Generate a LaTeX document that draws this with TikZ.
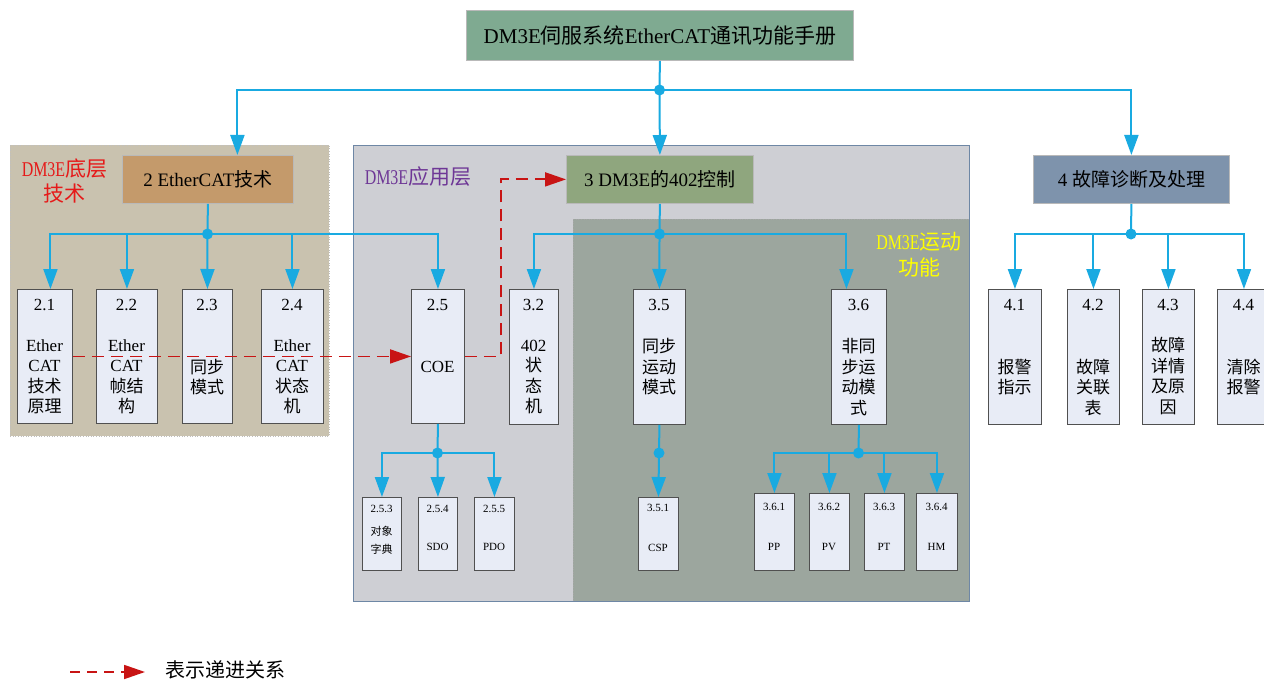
\documentclass[tikz,border=0pt]{standalone}
\usepackage{fontspec}
\setmainfont{Liberation Serif}
\newfontfamily\cjk{Noto Sans CJK SC}
\newfontfamily\nserif[FakeStretch=0.76]{Liberation Serif}
\usetikzlibrary{arrows.meta}
\newcommand\C[1]{{\cjk #1}}
\newcommand\N[1]{{\nserif #1}}
\definecolor{conn}{RGB}{25,170,225}
\definecolor{redd}{RGB}{200,20,20}
\definecolor{redl}{RGB}{230,25,25}
\definecolor{purp}{RGB}{110,55,150}
\definecolor{yell}{RGB}{255,255,0}
\definecolor{boxfill}{RGB}{232,236,246}
\definecolor{boxline}{RGB}{80,80,80}
\definecolor{panA}{RGB}{201,194,175}
\definecolor{panB}{RGB}{206,207,212}
\definecolor{panC}{RGB}{156,166,158}
\definecolor{panBline}{RGB}{110,135,165}
\definecolor{titlec}{RGB}{127,170,145}
\definecolor{twoc}{RGB}{196,154,107}
\definecolor{threec}{RGB}{143,166,126}
\definecolor{fourc}{RGB}{126,147,172}
\tikzset{
  leaf/.style={draw=boxline, fill=boxfill, line width=0.9pt, inner sep=0pt, anchor=north west},
  bigbox/.style={draw=gray!55, line width=0.8pt, inner sep=0pt, anchor=north west, font=\fontsize{19}{22}\selectfont},
  txt/.style={font=\fontsize{17}{20.5}\selectfont, align=center, inner sep=0pt},
  stxt/.style={font=\fontsize{11}{18}\selectfont, align=center, inner sep=0pt},
  ln/.style={draw=conn, line width=2pt},
  arr/.style={draw=conn, line width=2pt, -{Triangle[length=20pt,width=14pt]}},
  rarr/.style={draw=redd, line width=1.8pt, dash pattern=on 12pt off 7pt, -{Triangle[length=21pt,width=14pt]}},
  dot/.style={fill=conn},
  lbl/.style={font=\cjk\fontsize{21}{25}\selectfont, align=center, inner sep=0pt}
}
\begin{document}
\begin{tikzpicture}[x=1pt,y=-1pt]
\useasboundingbox (0,0) rectangle (1264,682);
% panels
\fill[panA] (10,145) rectangle (329,436);
\draw[gray!50, dotted, line width=0.6pt] (10,145) rectangle (329,436);
\fill[panB] (353,145) rectangle (969,601);
\fill[panC] (573,219) rectangle (969,601);
\draw[gray!70, dotted, line width=0.6pt] (573,601) -- (573,219) -- (969,219);
\draw[panBline, line width=0.9pt] (353,145) rectangle (969,601);
% labels
\node[lbl, text=redl] (lblA) at (64.5,180.5) {\N{DM3E}底层\\技术};
\node[lbl, text=purp] (lblB) at (418,177) {\N{DM3E}应用层};
\node[lbl, text=yell, font=\cjk\fontsize{21}{26}\selectfont] (lblC) at (919,255) {\N{DM3E}运动\\功能};
% big boxes
\node[bigbox, fill=titlec, minimum width=387pt, minimum height=50pt, font=\fontsize{21}{24}\selectfont] (title) at (466,10) {DM3E\C{伺服系统}EtherCAT\C{通讯功能手册}};
\node[bigbox, fill=twoc, minimum width=171pt, minimum height=48pt] (b2) at (122,155) {2 EtherCAT\C{技术}};
\node[bigbox, fill=threec, minimum width=187pt, minimum height=48pt] (b3) at (566,155) {3 DM3E\C{的}402\C{控制}};
\node[bigbox, fill=fourc, minimum width=196pt, minimum height=48pt] (b4) at (1033,155) {4 \C{故障诊断及处理}};
% level boxes
\node[leaf, minimum width=55pt, minimum height=134pt] (b21) at (17,289) {};
\node[leaf, minimum width=61pt, minimum height=134pt] (b22) at (96,289) {};
\node[leaf, minimum width=50pt, minimum height=134pt] (b23) at (182,289) {};
\node[leaf, minimum width=62pt, minimum height=134pt] (b24) at (261,289) {};
\node[leaf, minimum width=53pt, minimum height=134pt] (b25) at (411,289) {};
\node[leaf, minimum width=49pt, minimum height=135pt] (b32) at (509,289) {};
\node[leaf, minimum width=52pt, minimum height=135pt] (b35) at (633,289) {};
\node[leaf, minimum width=55pt, minimum height=135pt] (b36) at (831,289) {};
\node[leaf, minimum width=53pt, minimum height=135pt] (b41) at (988,289) {};
\node[leaf, minimum width=52pt, minimum height=135pt] (b42) at (1067,289) {};
\node[leaf, minimum width=52pt, minimum height=135pt] (b43) at (1142,289) {};
\node[leaf, minimum width=53pt, minimum height=135pt] (b44) at (1217,289) {};
% small boxes
\node[leaf, minimum width=39pt, minimum height=73pt] (b253) at (362,497) {};
\node[leaf, minimum width=39pt, minimum height=73pt] (b254) at (418,497) {};
\node[leaf, minimum width=40pt, minimum height=73pt] (b255) at (474,497) {};
\node[leaf, minimum width=40pt, minimum height=73pt] (b351) at (638,497) {};
\node[leaf, minimum width=40pt, minimum height=77pt] (b361) at (754,493) {};
\node[leaf, minimum width=40pt, minimum height=77pt] (b362) at (809,493) {};
\node[leaf, minimum width=40pt, minimum height=77pt] (b363) at (864,493) {};
\node[leaf, minimum width=41pt, minimum height=77pt] (b364) at (916,493) {};
% box texts
\node[txt] (n21) at (44.5,305) {2.1};
\node[txt] (t21) at (44.5,377) {Ether\\CAT\\\C{技术}\\\C{原理}};
\node[txt] (n22) at (126.5,305) {2.2};
\node[txt] (t22) at (126.5,377) {Ether\\CAT\\\C{帧结}\\\C{构}};
\node[txt] (n23) at (207,305) {2.3};
\node[txt] (t23) at (207,377) {\C{同步}\\\C{模式}};
\node[txt] (n24) at (292,305) {2.4};
\node[txt] (t24) at (292,377) {Ether\\CAT\\\C{状态}\\\C{机}};
\node[txt] (n25) at (437.5,305) {2.5};
\node[txt] (t25) at (437.5,367) {COE};
\node[txt] (n32) at (533.5,305) {3.2};
\node[txt] (t32) at (533.5,377) {402\\\C{状}\\\C{态}\\\C{机}};
\node[txt] (n35) at (659,305) {3.5};
\node[txt] (t35) at (659,367) {\C{同步}\\\C{运动}\\\C{模式}};
\node[txt] (n36) at (858.5,305) {3.6};
\node[txt] (t36) at (858.5,377) {\C{非同}\\\C{步运}\\\C{动模}\\\C{式}};
\node[txt] (n41) at (1014.5,305) {4.1};
\node[txt] (t41) at (1014.5,377) {\C{报警}\\\C{指示}};
\node[txt] (n42) at (1093,305) {4.2};
\node[txt] (t42) at (1093,387) {\C{故障}\\\C{关联}\\\C{表}};
\node[txt] (n43) at (1168,305) {4.3};
\node[txt] (t43) at (1168,376) {\C{故障}\\\C{详情}\\\C{及原}\\\C{因}};
\node[txt] (n44) at (1243.5,305) {4.4};
\node[txt] (t44) at (1243.5,377) {\C{清除}\\\C{报警}};
% small texts
\node[stxt] (n253) at (381.5,509) {2.5.3};
\node[stxt] (t253) at (381.5,540) {\C{对象}\\\C{字典}};
\node[stxt] (n254) at (437.5,509) {2.5.4};
\node[stxt] (t254) at (437.5,547) {SDO};
\node[stxt] (n255) at (494,509) {2.5.5};
\node[stxt] (t255) at (494,547) {PDO};
\node[stxt] (n351) at (658,508) {3.5.1};
\node[stxt] (t351) at (658,548) {CSP};
\node[stxt] (n361) at (774,507) {3.6.1};
\node[stxt] (t361) at (774,547) {PP};
\node[stxt] (n362) at (829,507) {3.6.2};
\node[stxt] (t362) at (829,547) {PV};
\node[stxt] (n363) at (884,507) {3.6.3};
\node[stxt] (t363) at (884,547) {PT};
\node[stxt] (n364) at (936.5,507) {3.6.4};
\node[stxt] (t364) at (936.5,547) {HM};
% junctions
\coordinate (j0) at (659.5,90);
\coordinate (j2) at (207.5,234);
\coordinate (j3) at (659.5,234);
\coordinate (j4) at (1131,234);
\coordinate (j25) at (437.5,453);
\coordinate (j35) at (659,453);
\coordinate (j36) at (858.5,453);
% connectors level 1
\draw[ln] (title.south) -- (j0);
\draw[arr] (j0) -| ([xshift=29.5pt]b2.north);
\draw[arr] (j0) -- (b3.north);
\draw[arr] (j0) -| (b4.north);
% level 2
\draw[ln] (b2.south) -- (j2);
\draw[arr] (j2) -| ([xshift=5.5pt]b21.north);
\draw[arr] (j2) -| (b22.north);
\draw[arr] (j2) -- (b23.north);
\draw[arr] (j2) -| (b24.north);
\draw[arr] (j2) -| (b25.north);
\draw[ln] (b3.south) -- (j3);
\draw[arr] (j3) -| (b32.north);
\draw[arr] (j3) -- (b35.north);
\draw[arr] (j3) -| ([xshift=-12.5pt]b36.north);
\draw[ln] (b4.south) -- (j4);
\draw[arr] (j4) -| (b41.north);
\draw[arr] (j4) -| (b42.north);
\draw[arr] (j4) -| (b43.north);
\draw[arr] (j4) -| (b44.north);
% level 3
\draw[ln] (b25.south) -- (j25);
\draw[arr] (j25) -| (b253.north);
\draw[arr] (j25) -- (b254.north);
\draw[arr] (j25) -| (b255.north);
\draw[ln] (b35.south) -- (j35);
\draw[arr] (j35) -- (b351.north);
\draw[ln] (b36.south) -- (j36);
\draw[arr] (j36) -| (b361.north);
\draw[arr] (j36) -| (b362.north);
\draw[arr] (j36) -| (b363.north);
\draw[arr] (j36) -| (b364.north);
% dots
\foreach \j in {j0,j2,j3,j4,j25,j35,j36} \fill[dot] (\j) circle (5.5);
% red progression arrows
\draw[rarr] (b21.east) -- (b25.west);
\draw[rarr] (b25.east) -- ++(36,0) |- (b3.west);
% legend
\coordinate (lg0) at (70,672);
\coordinate (lg1) at (145,672);
\draw[rarr, dash pattern=on 10pt off 7pt] (lg0) -- (lg1);
\node[lbl, anchor=west, font=\cjk\fontsize{20}{24}\selectfont] (lgt) at (165,670) {表示递进关系};
\end{tikzpicture}
\end{document}
